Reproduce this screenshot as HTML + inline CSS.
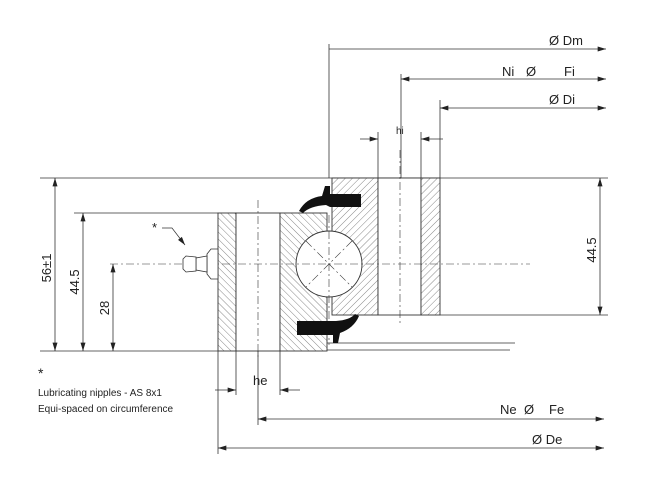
<!DOCTYPE html>
<html><head><meta charset="utf-8"><style>
html,body{margin:0;padding:0;background:#fff;}
svg{display:block;font-family:"Liberation Sans",sans-serif;}
</style></head><body>
<svg width="650" height="490" viewBox="0 0 650 490" xmlns="http://www.w3.org/2000/svg">
<defs>
<pattern id="h" patternUnits="userSpaceOnUse" width="5" height="5" patternTransform="rotate(-45)">
<rect width="5" height="5" fill="#fff"/><line x1="0" y1="0" x2="0" y2="5" stroke="#555" stroke-width="0.7"/></pattern>
<pattern id="h2" patternUnits="userSpaceOnUse" width="5" height="5" patternTransform="rotate(45)">
<rect width="5" height="5" fill="#fff"/><line x1="0" y1="0" x2="0" y2="5" stroke="#555" stroke-width="0.7"/></pattern>
<marker id="a" viewBox="0 0 10 6" refX="10" refY="3" markerWidth="9" markerHeight="5" orient="auto-start-reverse" markerUnits="userSpaceOnUse"><path d="M0,0L10,3L0,6z" fill="#222"/></marker>
</defs>
<g stroke="#333" stroke-width="0.8" fill="none">
<line x1="40" y1="178" x2="608" y2="178"/>
<line x1="440" y1="315" x2="608" y2="315"/>
<line x1="74" y1="213" x2="218" y2="213"/>
<line x1="40" y1="351" x2="218" y2="351"/>
<line x1="327" y1="343" x2="515" y2="343"/>
<line x1="327" y1="350" x2="510" y2="350"/>
<line x1="329" y1="44" x2="329" y2="178"/>
<line x1="401" y1="74" x2="401" y2="178"/>
<line x1="440" y1="100" x2="440" y2="178"/>
<line x1="378" y1="132" x2="378" y2="178"/>
<line x1="421" y1="132" x2="421" y2="178"/>
<line x1="218" y1="351" x2="218" y2="454"/>
<line x1="236" y1="351" x2="236" y2="395"/>
<line x1="280" y1="351" x2="280" y2="395"/>
<line x1="258" y1="351" x2="258" y2="425"/>
<line x1="329" y1="49" x2="606" y2="49" marker-end="url(#a)"/>
<line x1="401" y1="79" x2="606" y2="79" marker-start="url(#a)" marker-end="url(#a)"/>
<line x1="440" y1="108" x2="606" y2="108" marker-start="url(#a)" marker-end="url(#a)"/>
<line x1="360" y1="139" x2="378" y2="139" marker-end="url(#a)"/>
<line x1="443" y1="139" x2="421" y2="139" marker-end="url(#a)"/>
<line x1="600" y1="178" x2="600" y2="315" marker-start="url(#a)" marker-end="url(#a)"/>
<line x1="55" y1="178" x2="55" y2="351" marker-start="url(#a)" marker-end="url(#a)"/>
<line x1="83" y1="213" x2="83" y2="351" marker-start="url(#a)" marker-end="url(#a)"/>
<line x1="113" y1="264" x2="113" y2="351" marker-start="url(#a)" marker-end="url(#a)"/>
<line x1="215" y1="390" x2="236" y2="390" marker-end="url(#a)"/>
<line x1="300" y1="390" x2="280" y2="390" marker-end="url(#a)"/>
<line x1="258" y1="419" x2="604" y2="419" marker-start="url(#a)" marker-end="url(#a)"/>
<line x1="218" y1="448" x2="604" y2="448" marker-start="url(#a)" marker-end="url(#a)"/>
</g>
<rect x="218" y="213" width="18" height="138" fill="url(#h)" stroke="#333" stroke-width="0.9"/>
<rect x="236" y="213" width="44" height="138" fill="#fff" stroke="#333" stroke-width="0.9"/>
<rect x="280" y="213" width="47" height="138" fill="url(#h)" stroke="#333" stroke-width="0.9"/>
<rect x="332" y="178" width="46" height="137" fill="url(#h2)" stroke="#333" stroke-width="0.9"/>
<rect x="378" y="178" width="43" height="137" fill="#fff" stroke="#333" stroke-width="0.9"/>
<rect x="421" y="178" width="19" height="137" fill="url(#h2)" stroke="#333" stroke-width="0.9"/>
<circle cx="329" cy="264" r="33" fill="#fff" stroke="#333" stroke-width="0.9"/>
<g stroke="#333" stroke-width="0.6" stroke-dasharray="8,3,2,3" fill="none">
<line x1="110" y1="264" x2="530" y2="264"/>
<line x1="329" y1="215" x2="329" y2="345"/>
<line x1="306" y1="241" x2="352" y2="287"/>
<line x1="352" y1="241" x2="306" y2="287"/>
<line x1="258" y1="200" x2="258" y2="360"/>
<line x1="400" y1="150" x2="400" y2="325"/>
</g>
<path d="M330,194 L361,194 L361,207 L330,207 L326,205 Q310,206 303,213 L299,211 Q306,198 322,196 L325,186 L330,186 Z" fill="#111"/>
<path d="M297,321 L336,321 Q350,320 355,314 L359,316 Q354,328 340,333 L338,343 L333,343 L333,335 L297,335 Z" fill="#111"/>
<g stroke="#333" stroke-width="0.8" fill="#fff">
<path d="M218,249 L211,249 L207,254 L207,274 L211,279 L218,279 Z"/>
<path d="M207,256 L196,258 L196,270 L207,272 Z"/>
<path d="M196,257 L186,256 L183,259 L183,269 L186,272 L196,271 Z"/>
</g>
<path d="M162,228 L172,228 L185,245" stroke="#333" stroke-width="0.7" fill="none" marker-end="url(#a)"/>
<g fill="#222" font-size="13">
<text x="549" y="45">Ø Dm</text>
<text x="502" y="76">Ni</text><text x="526" y="76">Ø</text><text x="564" y="76">Fi</text>
<text x="549" y="104">Ø Di</text>
<text x="396" y="134" font-size="10">hi</text>
<text x="253" y="385">he</text>
<text x="500" y="414">Ne</text><text x="524" y="414">Ø</text><text x="549" y="414">Fe</text>
<text x="532" y="444">Ø De</text>
<text x="152" y="232">*</text>
<text x="38" y="378" font-size="14">*</text>
<text x="38" y="396" font-size="10">Lubricating nipples - AS 8x1</text>
<text x="38" y="412" font-size="10">Equi-spaced on circumference</text>
<text transform="translate(51,268) rotate(-90)" text-anchor="middle">56±1</text>
<text transform="translate(79,282) rotate(-90)" text-anchor="middle">44.5</text>
<text transform="translate(109,308) rotate(-90)" text-anchor="middle">28</text>
<text transform="translate(596,250) rotate(-90)" text-anchor="middle">44.5</text>
</g>
</svg>
</body></html>
